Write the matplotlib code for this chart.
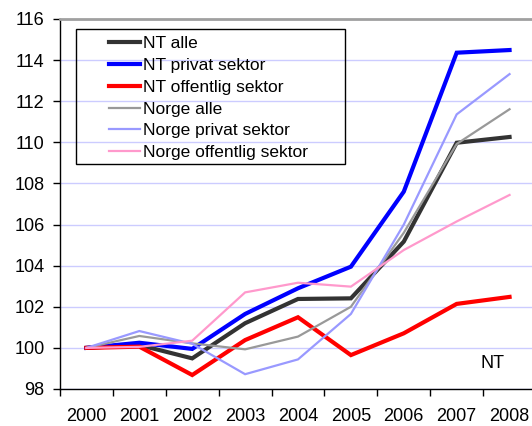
import matplotlib
matplotlib.use("Agg")
import matplotlib.pyplot as plt
from matplotlib.patches import Rectangle

plt.rcParams['font.family'] = ['Liberation Sans', 'DejaVu Sans']

years = ['2000', '2001', '2002', '2003', '2004', '2005', '2006', '2007', '2008']
nt_alle = [100.0, 100.14, 99.49, 101.2, 102.38, 102.41, 105.17, 109.98, 110.26]
nt_privat = [100.0, 100.25, 99.95, 101.65, 102.9, 103.95, 107.6, 114.36, 114.49]
nt_offentlig = [100.0, 100.06, 98.68, 100.38, 101.49, 99.65, 100.71, 102.14, 102.48]
norge_alle = [100.0, 100.58, 100.22, 99.93, 100.55, 102.0, 105.6, 109.92, 111.61]
norge_privat = [100.0, 100.82, 100.2, 98.72, 99.44, 101.65, 106.0, 111.36, 113.32]
norge_offentlig = [100.0, 100.05, 100.35, 102.7, 103.17, 102.98, 104.76, 106.15, 107.44]

series = [
    ('NT alle', nt_alle, '#333333', 3.0),
    ('NT privat sektor', nt_privat, '#0000ff', 3.0),
    ('NT offentlig sektor', nt_offentlig, '#ff0000', 3.0),
    ('Norge alle', norge_alle, '#999999', 1.6),
    ('Norge privat sektor', norge_privat, '#9999ff', 1.6),
    ('Norge offentlig sektor', norge_offentlig, '#ff99cc', 1.6),
]

W, H = 532, 426
fig = plt.figure(figsize=(W / 100, H / 100), dpi=100)
ax = fig.add_axes([60 / W, (H - 389) / H, (536 - 60) / W, (389 - 19) / H])

x = list(range(len(years)))
handles = []
for name, vals, col, lw in series:
    h, = ax.plot(x, vals, color=col, lw=lw, label=name, solid_joinstyle='miter')
    handles.append(h)

ax.set_xlim(-0.5, 8.5)
ax.set_ylim(98, 116)
ax.set_yticks(range(98, 117, 2))
ax.set_xticks(x)
ax.set_xticklabels(years)
ax.set_xticks([i - 0.5 for i in range(10)], minor=True)
ax.tick_params(axis='x', which='major', length=0, pad=13.5, labelsize=13)
ax.tick_params(axis='x', which='minor', length=5, width=1, direction='out')
ax.tick_params(axis='y', length=5, width=1, pad=6, labelsize=13)

ax.grid(axis='y', color='#ccccff', lw=1)
ax.set_axisbelow(True)
ax.spines['right'].set_visible(False)
ax.spines['top'].set_color('#a0a0a0')
ax.spines['top'].set_linewidth(2)
for s in ('left', 'bottom'):
    ax.spines[s].set_color('black')
    ax.spines[s].set_linewidth(1)

fig.text(492 / W, 1 - 363 / H, 'NT', fontsize=13, ha='center', va='center')

fig.patches.append(Rectangle((76 / W, 1 - 164 / H), (345 - 76) / W, (164 - 29) / H,
                             transform=fig.transFigure, fill=False, ec='black', lw=1))
leg = fig.legend(handles=handles, loc='upper left',
                 bbox_to_anchor=(104 / W, 1 - 31 / H), frameon=False,
                 fontsize=12.5, handlelength=1.75, handletextpad=0.2,
                 labelspacing=0.38, borderpad=0.3, borderaxespad=0)

fig.savefig('out.png', dpi=100)
